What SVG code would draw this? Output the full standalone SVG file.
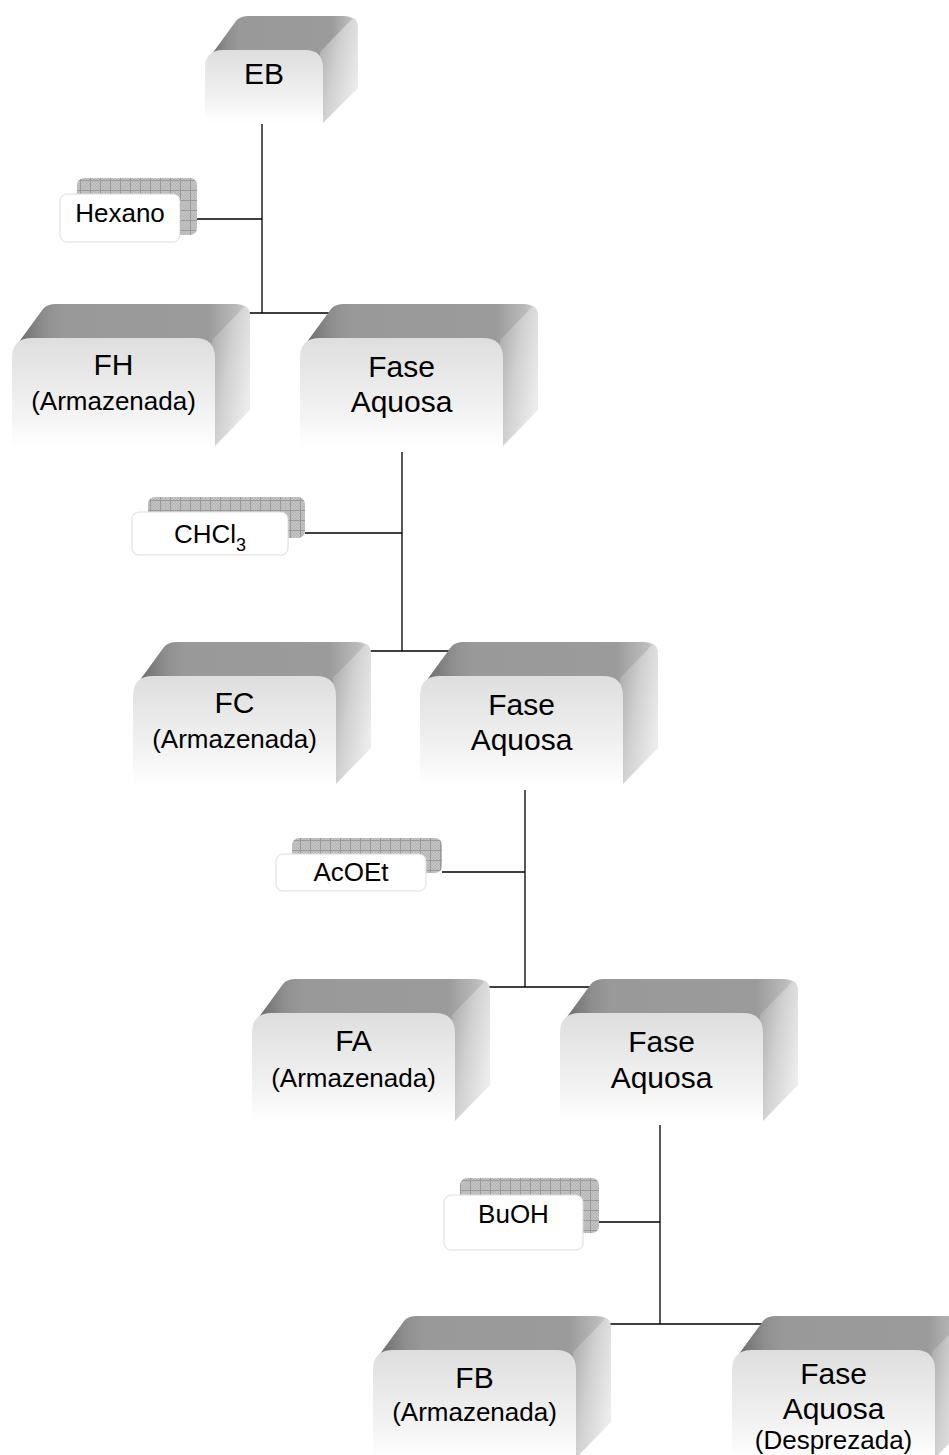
<svg xmlns="http://www.w3.org/2000/svg" xmlns:xlink="http://www.w3.org/1999/xlink" width="949" height="1455" viewBox="0 0 949 1455">
<style>
.t{font-family:"Liberation Sans",Arial,Helvetica,sans-serif;fill:#000;text-anchor:middle}
.big{font-size:30px}
.sub{font-size:26px}
.lab{font-size:26px}
.ln{stroke:#000;stroke-width:1.3;fill:none}
.lfront{fill:#fff;stroke:#dcdcdc;stroke-width:1}
.lshadow{fill:url(#hatch)}
</style>
<defs>
<linearGradient id="topG" x1="0" y1="0" x2="1" y2="0">
<stop offset="0" stop-color="#6a6a6a"/>
<stop offset="0.12" stop-color="#8e8e8e"/>
<stop offset="0.2" stop-color="#999"/>
<stop offset="0.82" stop-color="#9b9b9b"/>
<stop offset="0.95" stop-color="#bcbcbc"/>
<stop offset="1" stop-color="#d4d4d4"/>
</linearGradient>
<linearGradient id="sideG" x1="0" y1="0" x2="1" y2="0.6">
<stop offset="0" stop-color="#a6a6a6"/>
<stop offset="0.5" stop-color="#d0d0d0"/>
<stop offset="1" stop-color="#ececec"/>
</linearGradient>
<linearGradient id="frontG" x1="0" y1="0" x2="0" y2="1">
<stop offset="0" stop-color="#dedede"/>
<stop offset="0.6" stop-color="#f0f0f0"/>
<stop offset="1" stop-color="#fff"/>
</linearGradient>
<pattern id="chk" width="3" height="3" patternUnits="userSpaceOnUse">
<rect width="3" height="3" fill="#c9c9c9"/>
<rect width="1.5" height="1.5" fill="#b2b2b2"/>
<rect x="1.5" y="1.5" width="1.5" height="1.5" fill="#b2b2b2"/>
</pattern>
<pattern id="hatch" width="10" height="10" patternUnits="userSpaceOnUse">
<rect width="10" height="10" fill="url(#chk)"/>
<path d="M0 0.5H10M0.5 0V10" stroke="#999" stroke-width="1"/>
</pattern>
<g id="boxBig">
<path d="M4 8 L31 -29 Q35 -34 44 -34 L224 -34 Q236 -34 238 -24 L203 12 L4 12 Z" fill="url(#topG)"/>
<path d="M200 2 L233 -32 Q238 -30 238 -20 L238 72 L203 108 L200 108 Z" fill="url(#sideG)"/>
<path d="M0 20 Q0 0 20 0 L183 0 Q203 0 203 20 L203 110 L0 110 Z" fill="url(#frontG)"/>
</g>
<g id="boxSmall">
<path d="M4 8 L31 -29 Q35 -34 44 -34 L339 -34 Q351 -34 353 -24 L318 12 L4 12 Z" transform="translate(0 0)" fill="none"/>
<path d="M4 8 L31 -29 Q35 -34 44 -34 L139 -34 Q151 -34 153 -24 L118 12 L4 12 Z" fill="url(#topG)"/>
<path d="M115 2 L148 -32 Q153 -30 153 -20 L153 38 L118 73 L115 73 Z" fill="url(#sideG)"/>
<path d="M0 18 Q0 0 18 0 L100 0 Q118 0 118 18 L118 74 L0 74 Z" fill="url(#frontG)"/>
</g>
</defs>

<g id="connectors">
<path class="ln" d="M262 123V313M230 313H350M197 219H262"/>
<path class="ln" d="M402 452V651M350 651H470M305 533H402"/>
<path class="ln" d="M525 790V987M470 987H590M442 872H525"/>
<path class="ln" d="M660 1125V1324M600 1324H780M599 1222H660"/>
</g>

<g id="node-EB">
<use href="#boxSmall" x="205" y="50"/>
<text class="t big" x="264" y="84">EB</text>
</g>

<g id="label-hexano">
<rect class="lshadow" x="77" y="178" width="120" height="57" rx="7"/>
<rect class="lfront" x="60" y="194" width="120" height="48" rx="7"/>
<text class="t lab" x="120" y="222">Hexano</text>
</g>

<g id="node-FH">
<use href="#boxBig" x="12" y="338"/>
<text class="t big" x="113.5" y="375">FH</text>
<text class="t sub" x="113.5" y="410">(Armazenada)</text>
</g>

<g id="node-FA1">
<use href="#boxBig" x="300" y="338"/>
<text class="t big" x="401.5" y="377">Fase</text>
<text class="t big" x="401.5" y="412">Aquosa</text>
</g>

<g id="label-chcl3">
<rect class="lshadow" x="148" y="497" width="157" height="41" rx="7"/>
<rect class="lfront" x="132" y="512" width="156" height="43" rx="7"/>
<text class="t lab" x="210" y="543">CHCl<tspan font-size="18" dy="8">3</tspan></text>
</g>

<g id="node-FC">
<use href="#boxBig" x="133" y="676"/>
<text class="t big" x="234.5" y="713">FC</text>
<text class="t sub" x="234.5" y="748">(Armazenada)</text>
</g>

<g id="node-FA2">
<use href="#boxBig" x="420" y="676"/>
<text class="t big" x="521.5" y="715">Fase</text>
<text class="t big" x="521.5" y="750">Aquosa</text>
</g>

<g id="label-acoet">
<rect class="lshadow" x="292" y="838" width="150" height="35" rx="7"/>
<rect class="lfront" x="276" y="854" width="150" height="37" rx="7"/>
<text class="t lab" x="351" y="881">AcOEt</text>
</g>

<g id="node-FA">
<use href="#boxBig" x="252" y="1013"/>
<text class="t big" x="353.5" y="1051">FA</text>
<text class="t sub" x="353.5" y="1087">(Armazenada)</text>
</g>

<g id="node-FA3">
<use href="#boxBig" x="560" y="1013"/>
<text class="t big" x="661.5" y="1052">Fase</text>
<text class="t big" x="661.5" y="1088">Aquosa</text>
</g>

<g id="label-buoh">
<rect class="lshadow" x="460" y="1178" width="139" height="55" rx="7"/>
<rect class="lfront" x="444" y="1195" width="139" height="55" rx="7"/>
<text class="t lab" x="513.5" y="1223">BuOH</text>
</g>

<g id="node-FB">
<use href="#boxBig" x="373" y="1350"/>
<text class="t big" x="474.5" y="1388">FB</text>
<text class="t sub" x="474.5" y="1421">(Armazenada)</text>
</g>

<g id="node-FA4">
<use href="#boxBig" x="732" y="1350"/>
<text class="t big" x="833.5" y="1384">Fase</text>
<text class="t big" x="833.5" y="1419">Aquosa</text>
<text class="t sub" x="833.5" y="1449">(Desprezada)</text>
</g>
</svg>
